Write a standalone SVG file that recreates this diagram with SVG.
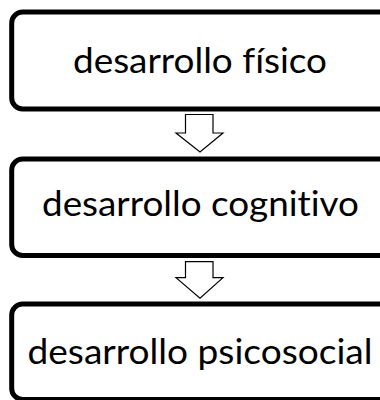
<svg xmlns="http://www.w3.org/2000/svg" width="380" height="400" viewBox="0 0 380 400">
<style>
.box{fill:#fff;stroke:#000;stroke-width:5}
.lbl{font-family:Lato,"Liberation Sans",sans-serif;font-size:34px;fill:#000;text-anchor:middle;font-variant-ligatures:none;font-feature-settings:"liga" 0,"clig" 0}
.arr{fill:#fff;stroke:#000;stroke-width:1.2;stroke-linejoin:miter}
</style>
<rect width="380" height="400" fill="#fff"/>
<g id="node1">
<rect class="box" x="11.7" y="12" width="378" height="97" rx="11"/>
<text class="lbl" x="200" y="72.7" textLength="254" lengthAdjust="spacingAndGlyphs">desarrollo físico</text>
</g>
<g id="node2">
<rect class="box" x="11.7" y="159" width="378" height="96.5" rx="11"/>
<text class="lbl" x="200.5" y="216" textLength="317" lengthAdjust="spacingAndGlyphs">desarrollo cognitivo</text>
</g>
<g id="node3">
<rect class="box" x="11.7" y="304" width="378" height="95.5" rx="11"/>
<text class="lbl" x="200" y="364.3" textLength="345" lengthAdjust="spacingAndGlyphs">desarrollo psicosocial</text>
</g>
<g id="connectors">
<path class="arr" d="M185.5,114.5 H213 V133 H223 L200,152 L176,133 H185.5 Z"/>
<path class="arr" d="M185.5,261.7 H213 V277.7 H223 L200,298.3 L176,277.7 H185.5 Z"/>
</g>
</svg>
